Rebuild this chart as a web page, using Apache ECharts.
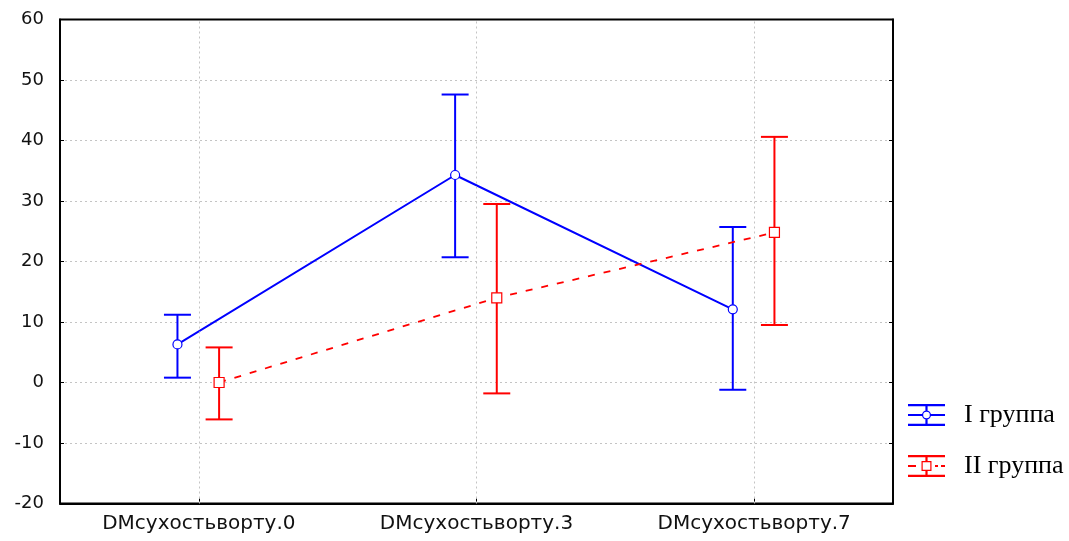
<!DOCTYPE html>
<html>
<head>
<meta charset="utf-8">
<script src="https://cdn.jsdelivr.net/npm/echarts@6/dist/echarts.min.js"></script>
<style>
  html, body { margin: 0; padding: 0; background: #ffffff; }
  #chart { width: 1069px; height: 541px; }
</style>
</head>
<body>
<div id="chart"></div>
<script>
// Categories on the horizontal axis
const categories = ['DMсухостьворту.0', 'DMсухостьворту.3', 'DMсухостьворту.7'];

// Group I: means and interval bounds
const meanI  = [6.3, 34.3, 12.1];
const upperI = [11.2, 47.6, 25.7];
const lowerI = [0.8, 20.7, -1.2];

// Group II: means and interval bounds
const meanII  = [0.0, 14.0, 24.8];
const upperII = [5.8, 29.5, 40.6];
const lowerII = [-6.1, -1.8, 9.5];

// Vertical axis ticks
const yMin = -20;
const yMax = 60;
const yStep = 10;

const seriesNames = ['I группа', 'II группа'];

// Horizontal shift of each group away from the category centre (in category units)
const SHIFT_I = -0.077;
const SHIFT_II = 0.073;
const CAP_HALF = 13.5;

const BLUE = '#0000ff';
const RED = '#ff0000';

function points(values, shift) {
  return values.map((v, i) => [i + shift, v]);
}
function ranges(lo, hi, shift) {
  return lo.map((v, i) => [i + shift, v, hi[i]]);
}

function errorBarRenderer(color, width) {
  return function (params, api) {
    const x = api.value(0);
    const lo = api.coord([x, api.value(1)]);
    const hi = api.coord([x, api.value(2)]);
    const style = { stroke: color, lineWidth: width };
    return {
      type: 'group',
      children: [
        { type: 'line', shape: { x1: lo[0], y1: hi[1], x2: lo[0], y2: lo[1] }, style: style },
        { type: 'line', shape: { x1: hi[0] - CAP_HALF, y1: hi[1], x2: hi[0] + CAP_HALF, y2: hi[1] }, style: style },
        { type: 'line', shape: { x1: lo[0] - CAP_HALF, y1: lo[1], x2: lo[0] + CAP_HALF, y2: lo[1] }, style: style }
      ]
    };
  };
}

// Legend glyphs: whisker with circle / whisker with square and dashed line
const iconI = 'path://M0 0H37V2.2H0Z M0 19.8H37V22H0Z M17.4 2.2H19.6V6.5H17.4Z M17.4 15.5H19.6V19.8H17.4Z ' +
  'M0 10H14.2V12H0Z M22.8 10H37V12H22.8Z ' +
  'M14 11A4.5 4.5 0 1 1 23 11A4.5 4.5 0 1 1 14 11Z M15.2 11A3.3 3.3 0 1 0 21.8 11A3.3 3.3 0 1 0 15.2 11Z';
const iconII = 'path://M0 0H37V2.2H0Z M0 19.8H37V22H0Z M17.4 2.2H19.6V6H17.4Z M17.4 16H19.6V19.8H17.4Z ' +
  'M13.5 6H23.5V16H13.5Z M14.7 7.2V14.8H22.3V7.2Z ' +
  'M0 10H8V12H0Z M27 10H30V12H27Z M33 10H37V12H33Z';

const chart = echarts.init(document.getElementById('chart'), null, { renderer: 'canvas' });

chart.setOption({
  animation: false,
  backgroundColor: '#ffffff',
  grid: {
    left: 60, right: 176, top: 19.5, bottom: 37.5,
    show: true, borderColor: '#000000', borderWidth: 1.8, backgroundColor: 'transparent'
  },
  legend: {
    orient: 'vertical',
    left: 903,
    top: 397,
    itemWidth: 37,
    itemHeight: 22,
    itemGap: 25,
    data: [
      { name: seriesNames[0], icon: iconI, itemStyle: { color: BLUE, borderWidth: 0 } },
      { name: seriesNames[1], icon: iconII, itemStyle: { color: RED, borderWidth: 0 } }
    ],
    textStyle: {
      fontFamily: 'Liberation Serif',
      fontSize: 26,
      color: '#000000',
      padding: [0, 0, 0, 14]
    }
  },
  xAxis: [
    {
      type: 'category',
      data: categories,
      boundaryGap: true,
      axisLine: { show: true, onZero: false, lineStyle: { color: '#000000', width: 1.8 } },
      axisTick: { show: true, inside: true, alignWithLabel: true, length: 5, lineStyle: { color: '#000000', width: 1 } },
      axisLabel: { fontFamily: 'DejaVu Sans', fontSize: 20, color: '#111111', margin: 10 },
      splitLine: { show: false }
    },
    {
      type: 'value',
      min: -0.5,
      max: 2.5,
      show: false,
      axisLine: { onZero: false }
    }
  ],
  yAxis: [
    {
      type: 'value',
      min: yMin,
      max: yMax,
      interval: yStep,
      axisLine: { show: true, onZero: false, lineStyle: { color: '#000000', width: 1.8 } },
      axisTick: { show: true, inside: true, length: 4, lineStyle: { color: '#000000', width: 1 } },
      axisLabel: { fontFamily: 'DejaVu Sans', fontSize: 18, color: '#111111', margin: 16 },
      splitLine: {
        show: true, showMinLine: false, showMaxLine: false,
        lineStyle: { color: '#c4c4c4', width: 1, type: [2, 3] }
      }
    },
    {
      type: 'value',
      position: 'right',
      min: yMin,
      max: yMax,
      interval: yStep,
      axisLine: { show: true, onZero: false, lineStyle: { color: '#000000', width: 1.8 } },
      axisTick: { show: true, inside: true, length: 4, lineStyle: { color: '#000000', width: 1 } },
      axisLabel: { show: false },
      splitLine: { show: false }
    }
  ],
  series: [
    {
      // vertical grid lines at the category centres
      type: 'line',
      xAxisIndex: 1,
      yAxisIndex: 0,
      data: [],
      silent: true,
      z: 1,
      markLine: {
        silent: true,
        symbol: 'none',
        label: { show: false },
        lineStyle: { color: '#c4c4c4', width: 1, type: [2, 3] },
        data: categories.map((c, i) => ({ xAxis: i }))
      }
    },
    {
      name: seriesNames[0],
      type: 'custom',
      xAxisIndex: 1,
      yAxisIndex: 0,
      renderItem: errorBarRenderer(BLUE, 2),
      encode: { x: 0, y: [1, 2] },
      data: ranges(lowerI, upperI, SHIFT_I),
      z: 3
    },
    {
      name: seriesNames[1],
      type: 'custom',
      xAxisIndex: 1,
      yAxisIndex: 0,
      renderItem: errorBarRenderer(RED, 2),
      encode: { x: 0, y: [1, 2] },
      data: ranges(lowerII, upperII, SHIFT_II),
      z: 3
    },
    {
      name: seriesNames[0],
      type: 'line',
      xAxisIndex: 1,
      yAxisIndex: 0,
      data: points(meanI, SHIFT_I),
      symbol: 'circle',
      symbolSize: 9,
      showAllSymbol: true,
      lineStyle: { color: BLUE, width: 2 },
      itemStyle: { color: '#ffffff', borderColor: BLUE, borderWidth: 1.2 },
      z: 4
    },
    {
      name: seriesNames[1],
      type: 'line',
      xAxisIndex: 1,
      yAxisIndex: 0,
      data: points(meanII, SHIFT_II),
      symbol: 'rect',
      symbolSize: 10,
      showAllSymbol: true,
      lineStyle: { color: RED, width: 1.8, type: [7, 9] },
      itemStyle: { color: '#ffffff', borderColor: RED, borderWidth: 1.2 },
      z: 4
    }
  ]
});
</script>
</body>
</html>
